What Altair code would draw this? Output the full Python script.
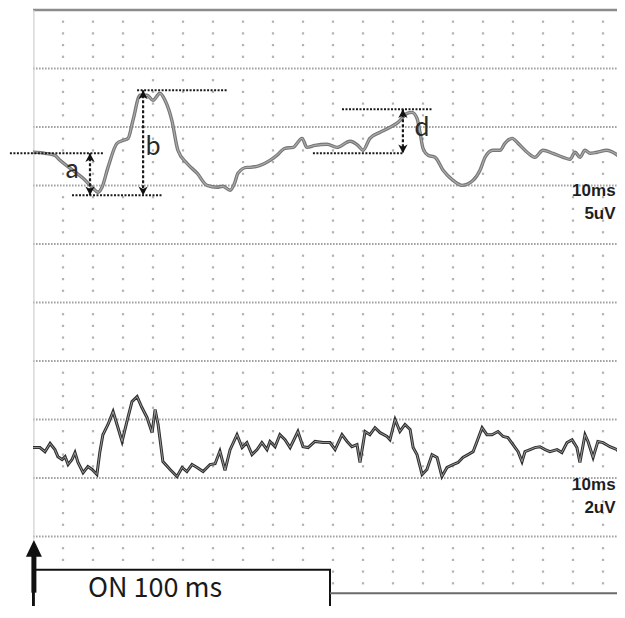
import altair as alt
import pandas as pd

# ---------------- data ----------------
# upper trace: (time ms, amplitude uV), 10 ms / 5 uV per division
top_trace = [
    (0, 0.1), (4, 0.0), (7.3, -0.17), (9, -0.6), (13.3, -1.45), (16.7, -2.14),
    (19.7, -2.9), (21.7, -3.33), (23, -2.9), (25, -1.2), (28, 0.85), (30, 1.1),
    (31.7, 1.28), (33.3, 2.8), (35.7, 4.96), (38, 4.96), (40, 4.53), (42.3, 5.13),
    (44, 4.53), (46.3, 2.8), (48.3, 0.26), (51.3, -0.85), (54.7, -1.7), (58, -2.74),
    (61.3, -2.9), (63.3, -2.82), (65.7, -3.16), (67.3, -2.48), (68.3, -1.7),
    (71.3, -1.2), (72.3, -1.2), (75.7, -1.03), (79, -0.6), (81.3, -0.17), (84, 0.43),
    (86.7, 0.51), (89.7, 1.28), (91.3, 0.51), (94, 0.68), (98, 0.77), (101.3, 0.51),
    (105.7, 1.03), (108.3, 0.68), (110, 0.26), (112.3, 1.28), (115.7, 1.8),
    (119, 2.22), (121.7, 2.65), (124.7, 3.42), (126.3, 3.5), (128, 2.99), (129, 1.8),
    (130, 0.43), (131.7, -0.17), (134, -0.34), (136.7, -1.45), (140, -2.31),
    (143, -2.74), (146.7, -2.31), (149, -1.45), (150.7, -0.34), (153.3, 0.26),
    (155.7, 0.26), (157.3, 0.85), (159.7, 1.28), (161.7, 0.85), (164.7, 0.09),
    (167.3, -0.34), (170, 0.26), (173.3, 0.0), (176.7, -0.34), (179, -0.51),
    (180.7, 0.09), (182.3, -0.34), (184, 0.26), (185.7, 0.0), (188, 0.09),
    (191.3, 0.26), (193.3, 0.09), (195.7, -0.34), (197.3, -0.77),
]

# lower trace: (time ms, amplitude uV), 10 ms / 2 uV per division
bottom_trace = [
    (0, 0), (2.3, 0), (4, -0.14), (5.7, 0.14), (7.3, -0.07), (8.3, -0.31), (9.7, -0.41),
    (10.7, -0.31), (11.7, -0.58), (13, -0.41), (14, -0.17), (15, -0.51), (16.7, -0.86),
    (18.3, -0.65), (19.7, -0.75), (21.3, -0.92), (22.3, -0.14), (23.3, 0.44), (25, 0.79),
    (26.7, 1.23), (28, 0.79), (29.7, 0.21), (31.3, 0.89), (33, 1.57), (34.7, 1.74),
    (36.3, 1.37), (38, 1.03), (39.7, 0.51), (40.7, 1.30), (41.7, 0.79), (43.3, -0.48),
    (45.7, -0.75), (48, -0.99), (49.7, -0.68), (51.3, -0.82), (53, -0.58), (54.7, -0.68),
    (56.7, -0.82), (59, -0.58), (60.7, -0.55), (62.3, -0.12), (64, -0.78), (65.7, -0.07),
    (68, 0.44), (69.7, 0), (71.3, 0.17), (73, -0.24), (74.7, -0.07), (76.3, 0.17),
    (78, -0.07), (79, 0.21), (80.7, 0.03), (82.3, 0.44), (84, 0.27), (85.7, 0),
    (88.3, 0.55), (90, 0.03), (91.7, 0), (94, 0.21), (96.7, 0.17), (99, 0.17),
    (100.7, -0.07), (103, 0.44), (104.7, 0.21), (106.3, 0.03), (108, 0.10), (109, -0.51),
    (110.7, 0.55), (112.3, 0.44), (114, 0.68), (115.7, 0.51), (118, 0.38), (119, 0.27),
    (120.7, 0.96), (122.3, 0.55), (124, 0.79), (125.7, 0.62), (126.7, 0), (128, -0.24),
    (129.7, -0.92), (131.3, -0.75), (133, -0.24), (134.7, -0.34), (136.3, -0.99),
    (138, -0.68), (140, -0.58), (141.7, -0.51), (143.3, -0.34), (145, -0.24),
    (146.7, -0.14), (148, 0.21), (149.7, 0.68), (151.3, 0.44), (153, 0.44), (155, 0.55),
    (156.7, 0.38), (158.3, 0.34), (160, 0.10), (161.7, -0.14), (163, -0.48), (164, -0.14),
    (165.7, -0.07), (167.3, 0), (169, 0.03), (170.7, -0.07), (172.3, -0.14), (174.7, -0.07),
    (176.3, -0.17), (178, 0.17), (179.7, 0.27), (181.3, 0), (182.3, -0.51), (184, 0.44),
    (185, 0.21), (186.7, -0.34), (188.3, 0.21), (190, 0.17), (192.3, 0.03), (194.7, -0.07),
    (196.3, -0.31), (197.3, -0.14),
]

# measurement markers (upper trace units): horizontal reference levels
ref_levels = [  # (label, t start, t end, uV)
    ("a0", -7.7, 23.3, 0.0),
    ("a1", 13.0, 43.0, -3.59),
    ("b1", 34.7, 64.7, 5.38),
    ("d1", 103.0, 133.3, 3.76),
    ("d0", 93.3, 123.3, 0.0),
]
measure_arrows = [  # (label, t, uV top, uV bottom, label t, label uV)
    ("a", 19.0, 0.0, -3.59, 13.0, -1.45),
    ("b", 36.7, 5.38, -3.59, 40.0, 0.51),
    ("d", 123.3, 3.76, 0.0, 129.7, 2.14),
]

stim_on_ms = [0, 100]
stim_label = "ON 100 ms"
scale_labels_top = ["10ms", "5uV"]
scale_labels_bottom = ["10ms", "2uV"]

# ---------------- layout constants ----------------
T_MIN, T_MAX = -8.333, 194.667          # ms across the sheet
DIV_MIN, DIV_MAX = -0.188, 10.034        # grid divisions (bottom -> top)
TOP_BASE, TOP_UV_DIV = 7.55, 5.0
BOT_BASE, BOT_UV_DIV = 2.52, 2.0

xs = alt.Scale(domain=[T_MIN, T_MAX], nice=False, zero=False)
ys = alt.Scale(domain=[DIV_MIN, DIV_MAX], nice=False, zero=False)
X = lambda f: alt.X(f, type="quantitative", scale=xs, axis=None)
Y = lambda f: alt.Y(f, type="quantitative", scale=ys, axis=None)

def top_div(uv):
    return TOP_BASE + uv / TOP_UV_DIV

# grid
dots = pd.DataFrame([{"t": c, "v": k + j * 0.2}
                     for c in range(10, 200, 10) for k in range(0, 10) for j in range(1, 5)])
majors = pd.DataFrame({"v": list(range(1, 10)), "t0": 0.0, "t1": T_MAX})

dots_layer = alt.Chart(dots).mark_square(size=5, color="#b3b3b3", opacity=1).encode(x=X("t"), y=Y("v"))
major_layer = alt.Chart(majors).mark_rule(color="#a3a3a3", strokeWidth=2, strokeDash=[1.6, 1.4]).encode(
    x=X("t0"), x2="t1", y=Y("v"))
top_border = alt.Chart(pd.DataFrame({"t0": [0.0], "t1": [T_MAX], "v": [10.0]})).mark_rule(
    color="#8c8c8c", strokeWidth=2.5).encode(x=X("t0"), x2="t1", y=Y("v"))
left_border = alt.Chart(pd.DataFrame({"t": [0.3], "v0": [0.95], "v1": [10.0]})).mark_rule(
    color="#cfcfcf", strokeWidth=1.2).encode(x=X("t"), y=Y("v0"), y2="v1")

# traces
top_df = pd.DataFrame(top_trace, columns=["t", "uv"])
top_df["v"] = top_div(top_df["uv"])
bot_df = pd.DataFrame(bottom_trace, columns=["t", "uv"])
bot_df["v"] = BOT_BASE + bot_df["uv"] / BOT_UV_DIV

top_outer = alt.Chart(top_df).mark_line(color="#767676", strokeWidth=3.4, interpolate="monotone").encode(
    x=X("t"), y=Y("v"), order="t:Q")
top_inner = alt.Chart(top_df).mark_line(color="#ababab", strokeWidth=1.2, interpolate="monotone").encode(
    x=X("t"), y=Y("v"), order="t:Q")
bot_outer = alt.Chart(bot_df).mark_line(color="#2e2e2e", strokeWidth=3.0).encode(
    x=X("t"), y=Y("v"), order="t:Q")
bot_inner = alt.Chart(bot_df).mark_line(color="#9a9a9a", strokeWidth=1.0).encode(
    x=X("t"), y=Y("v"), order="t:Q")

# measurement markers
lev = pd.DataFrame(ref_levels, columns=["name", "t0", "t1", "uv"])
lev["v"] = top_div(lev["uv"])
lev_layer = alt.Chart(lev).mark_rule(color="#1a1a1a", strokeWidth=2, strokeDash=[2, 1.5]).encode(
    x=X("t0"), x2="t1", y=Y("v"))

arr = pd.DataFrame(measure_arrows, columns=["name", "t", "uv_top", "uv_bot", "lt", "luv"])
arr["vt"] = top_div(arr["uv_top"])
arr["vb"] = top_div(arr["uv_bot"])
arr["lv"] = top_div(arr["luv"])
arr_shaft = alt.Chart(arr).mark_rule(color="#1a1a1a", strokeWidth=2.2, strokeDash=[3, 2]).encode(
    x=X("t"), y=Y("vt"), y2="vb")
head_up = "M0,0L-0.85,1.6L0,1.15L0.85,1.6Z"
head_down = "M0,0L-0.85,-1.6L0,-1.15L0.85,-1.6Z"
arr_up = alt.Chart(arr).mark_point(shape=head_up, size=120, filled=True, color="#111", opacity=1).encode(
    x=X("t"), y=Y("vt"))
arr_down = alt.Chart(arr).mark_point(shape=head_down, size=120, filled=True, color="#111", opacity=1).encode(
    x=X("t"), y=Y("vb"))
arr_text = alt.Chart(arr).mark_text(font="Noto Sans CJK JP", fontSize=25, color="#2a2a2a",
                                     align="center", baseline="middle").encode(
    x=X("lt"), y=Y("lv"), text="name:N")

# scale labels (right-aligned so they stay whole inside the sheet)
sl = pd.DataFrame({
    "txt": scale_labels_top + scale_labels_bottom,
    "t": [194.2, 194.2, 194.2, 194.2],
    "v": [6.906, 6.513, 1.88, 1.487],
})
sl_layer = alt.Chart(sl).mark_text(font="Liberation Sans", fontWeight="bold", fontSize=17,
                                   color="#1e1e1e", align="right", baseline="middle").encode(
    x=X("t"), y=Y("v"), text="txt:N")

# stimulus
stim_box = alt.Chart(pd.DataFrame({"t0": [stim_on_ms[0]], "t1": [stim_on_ms[1] - 1],
                                   "v0": [-0.37], "v1": [0.43]})).mark_rect(
    fill="white", stroke="#111", strokeWidth=2).encode(x=X("t0"), x2="t1", y=Y("v0"), y2="v1")
stim_off = alt.Chart(pd.DataFrame({"t0": [stim_on_ms[1] - 1], "t1": [T_MAX], "v": [0.03]})).mark_rule(
    color="#6a6a6a", strokeWidth=2).encode(x=X("t0"), x2="t1", y=Y("v"))
stim_text = alt.Chart(pd.DataFrame({"t": [18.3], "v": [-0.035], "txt": [stim_label]})).mark_text(
    font="Noto Sans CJK JP", fontSize=27, color="#1a1a1a", align="left", baseline="alphabetic").encode(
    x=X("t"), y=Y("v"), text="txt:N")
onset_thin = alt.Chart(pd.DataFrame({"t": [0.3], "v0": [-0.4], "v1": [0.7]})).mark_rule(
    color="#111", strokeWidth=2).encode(x=X("t"), y=Y("v0"), y2="v1")
onset_thick = alt.Chart(pd.DataFrame({"t": [0.3], "v0": [0.04], "v1": [0.68]})).mark_rule(
    color="#111", strokeWidth=5).encode(x=X("t"), y=Y("v0"), y2="v1")
onset_head = alt.Chart(pd.DataFrame({"t": [0.3], "v": [0.94]})).mark_point(
    shape="M0,0L-1,2.1L1,2.1Z", size=256, filled=True, color="#111", opacity=1).encode(x=X("t"), y=Y("v"))

chart = alt.layer(
    dots_layer, major_layer, top_border, left_border,
    top_outer, top_inner, bot_outer, bot_inner,
    lev_layer, arr_shaft, arr_up, arr_down, arr_text,
    sl_layer, stim_box, stim_off, stim_text, onset_thin, onset_thick, onset_head,
).properties(
    width=609, height=598, padding=0,
    autosize=alt.AutoSizeParams(type="none"),
    background="white",
).configure_view(stroke=None)

chart.save("out.html", embed_options={"renderer": "svg", "actions": False})
